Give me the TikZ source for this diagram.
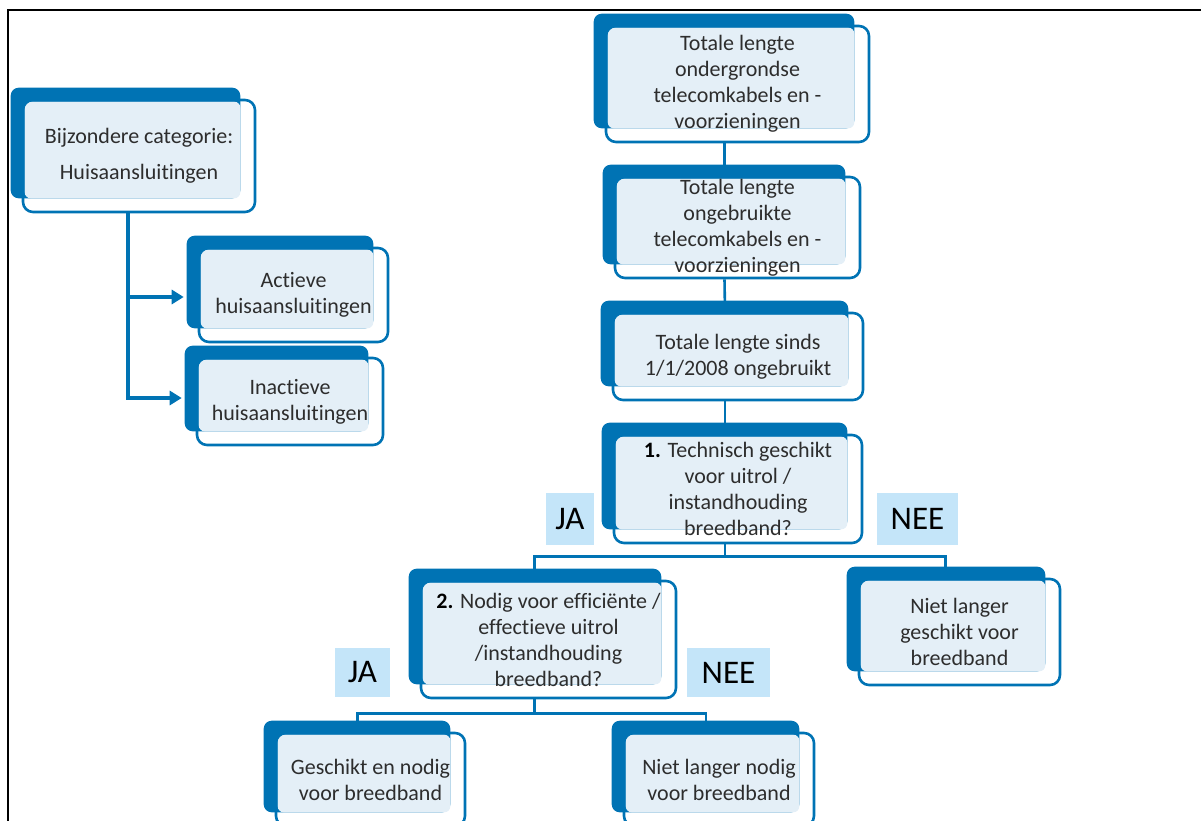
\documentclass[tikz,border=0pt]{standalone}
\usepackage{fontspec}
\setmainfont[Ligatures=NoCommon]{Carlito}
\usepackage{tikz}
\usetikzlibrary{
  	positioning,
  	arrows.meta,
  	calc,
  	backgrounds
  }
\definecolor{cardblue}{RGB}{0,115,180}
\definecolor{cardlight}{RGB}{228,239,247}
\definecolor{answerblue}{RGB}{196,229,249}
\definecolor{textgray}{RGB}{45,45,45}
\tikzstyle{card}=[draw=cardblue,line width=2.6pt,rounded corners=10pt,align=center,text=textgray,font=\fontsize{22}{26}\selectfont,inner sep=0pt]
\tikzstyle{answer}=[fill=answerblue,inner sep=0pt,font=\fontsize{33}{38}\selectfont,text=black]
\tikzstyle{link}=[cardblue,line width=2.6pt]
\tikzstyle{feed}=[cardblue,line width=3.4pt,-{Triangle[length=12pt,width=14pt]}]

\begin{document}
\begin{tikzpicture}[x=1pt,y=-1pt]
\useasboundingbox (0,0) rectangle (1201,821);
% frame
\draw[line width=2.6pt] (8,821) -- (8,10) -- (1201,10);

% left branch
\node[card,minimum width=232pt,minimum height=112pt] (cat) at (139,156) {Bijzondere categorie:\\[10pt]Huisaansluitingen};
\node[card,minimum width=189pt,minimum height=94pt] (act) at (293.5,295) {Actieve\\huisaansluitingen};
\node[card,minimum width=186pt,minimum height=87pt] (inact) at (290,401.5) {Inactieve\\huisaansluitingen};

% main column
\node[card,minimum width=263pt,minimum height=116pt] (total) at (737.5,84) {Totale lengte\\ondergrondse\\telecomkabels en -\\voorzieningen};
\node[card,minimum width=245pt,minimum height=101pt] (unused) at (737.5,227.5) {Totale lengte\\ongebruikte\\telecomkabels en -\\voorzieningen};
\node[card,minimum width=250pt,minimum height=87pt] (since) at (738,356.5) {Totale lengte sinds\\1/1/2008 ongebruikt};
\node[card,minimum width=248pt,minimum height=108pt] (tech) at (738,489) {\textbf{\color{black}1.} Technisch geschikt\\voor uitrol /\\instandhouding\\breedband?};
\node[card,minimum width=255pt,minimum height=117pt] (need) at (548.5,639.5) {\textbf{\color{black}2.} Nodig voor efficiënte /\\effectieve uitrol\\/instandhouding\\breedband?};
\node[card,minimum width=201pt,minimum height=106pt] (nogeschikt) at (959.5,632) {Niet langer\\geschikt voor\\breedband};
\node[card,minimum width=189pt,minimum height=93pt] (nodig) at (370.5,779.5) {Geschikt en nodig\\voor breedband};
\node[card,minimum width=190pt,minimum height=93pt] (nonodig) at (719,779.5) {Niet langer nodig\\voor breedband};

% answers
\node[answer,minimum width=48pt,minimum height=52pt] (ja1) at (570,519) {JA};
\node[answer,minimum width=81pt,minimum height=52pt] (nee1) at (917.5,519) {NEE};
\node[answer,minimum width=55pt,minimum height=49pt] (ja2) at (362.5,672.5) {JA};
\node[answer,minimum width=83pt,minimum height=49pt] (nee2) at (728.5,672.5) {NEE};

\begin{scope}[on background layer]
% connectors first, the cards hide their ends
\draw[link] ([xshift=-13pt]total.south) -- ([xshift=-13pt]unused.north);
\draw[link] ([xshift=-13pt]unused.south) -- ([xshift=-13pt]since.north);
\draw[link] ([xshift=-13pt]since.south) -- ([xshift=-13pt]tech.north);
\draw[link] ([xshift=-13pt]tech.south) -- ++(0,12) coordinate (fork1);
\draw[link] ([xshift=-14pt]need.north) |- (fork1) -| ([xshift=-14pt]nogeschikt.north);
\draw[link] ([xshift=-14pt]need.south) -- ++(0,14) coordinate (fork2);
\draw[link] ([xshift=-13pt]nodig.north) |- (fork2) -| ([xshift=-13pt]nonodig.north);
\draw[feed] ([xshift=-11pt]cat.south) |- ([xshift=-14pt,yshift=-2pt]act.west);
\draw[feed] ([xshift=-11pt]cat.south) |- ([xshift=-14pt,yshift=3.5pt]inact.west);
% cards
\foreach \n in {cat,act,inact,total,unused,since,tech,need,nogeschikt,nodig,nonodig}{
  \fill[cardblue,rounded corners=8pt] ($(\n.north west)+(-11,-11)$) rectangle ($(\n.south east)+(-16,-15)$);
  \fill[cardlight,rounded corners=6pt] ($(\n.north west)+(3,3)$) rectangle ($(\n.south east)+(-16,-15)$);
}
\end{scope}
\end{tikzpicture}
\end{document}
